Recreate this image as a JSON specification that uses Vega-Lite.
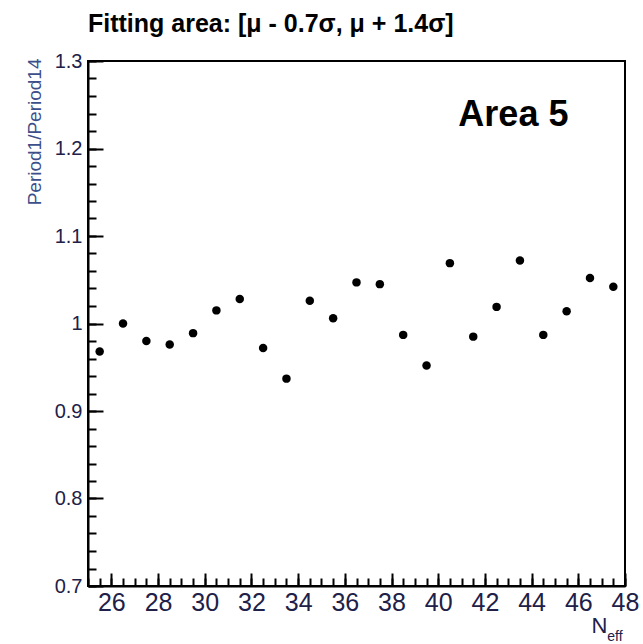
{
  "$schema": "https://vega.github.io/schema/vega-lite/v6.json",
  "autosize": {"type": "none"},
  "padding": {"left": 88, "top": 61, "right": 18, "bottom": 58},
  "width": 537,
  "height": 525,
  "background": "white",
  "config": {
    "view": {"stroke": "#000000", "strokeWidth": 2},
    "font": "Liberation Sans"
  },
  "title": {
    "text": "Fitting area: [μ - 0.7σ,  μ + 1.4σ]",
    "anchor": "start",
    "frame": "group",
    "font": "Liberation Sans",
    "fontSize": 25,
    "fontWeight": "bold",
    "color": "#000000",
    "baseline": "bottom",
    "offset": -11
  },
  "data": {
    "values": [
      {"neff": 25.5, "ratio": 0.968},
      {"neff": 26.5, "ratio": 1.000},
      {"neff": 27.5, "ratio": 0.980},
      {"neff": 28.5, "ratio": 0.976},
      {"neff": 29.5, "ratio": 0.989},
      {"neff": 30.5, "ratio": 1.015},
      {"neff": 31.5, "ratio": 1.028},
      {"neff": 32.5, "ratio": 0.972},
      {"neff": 33.5, "ratio": 0.937},
      {"neff": 34.5, "ratio": 1.026},
      {"neff": 35.5, "ratio": 1.006},
      {"neff": 36.5, "ratio": 1.047},
      {"neff": 37.5, "ratio": 1.045},
      {"neff": 38.5, "ratio": 0.987},
      {"neff": 39.5, "ratio": 0.952},
      {"neff": 40.5, "ratio": 1.069},
      {"neff": 41.5, "ratio": 0.985},
      {"neff": 42.5, "ratio": 1.019},
      {"neff": 43.5, "ratio": 1.072},
      {"neff": 44.5, "ratio": 0.987},
      {"neff": 45.5, "ratio": 1.014},
      {"neff": 46.5, "ratio": 1.052},
      {"neff": 47.5, "ratio": 1.042}
    ]
  },
  "resolve": {"axis": {"x": "independent", "y": "independent"}},
  "layer": [
    {
      "mark": {"type": "point", "shape": "circle", "filled": true, "color": "#000000", "opacity": 1, "size": 72},
      "encoding": {
        "x": {
          "field": "neff", "type": "quantitative",
          "scale": {"domain": [25, 48], "nice": false, "zero": false},
          "axis": {
            "orient": "bottom",
            "title": null,
            "values": [26, 28, 30, 32, 34, 36, 38, 40, 42, 44, 46, 48],
            "grid": false,
            "domain": true, "domainColor": "#000000", "domainWidth": 2,
            "ticks": true, "tickSize": -13, "tickColor": "#000000", "tickWidth": 2,
            "labelFontSize": 25, "labelColor": "#202048", "labelPadding": 17,
            "labelFont": "Liberation Sans", "labelBaseline": "top",
            "labelFlush": false, "labelOverlap": false
          }
        },
        "y": {
          "field": "ratio", "type": "quantitative",
          "scale": {"domain": [0.7, 1.3], "nice": false, "zero": false},
          "axis": {
            "orient": "left",
            "title": "Period1/Period14",
            "titleFontSize": 19, "titleFontWeight": "normal", "titleColor": "#3b4f8a",
            "titleFont": "Liberation Sans",
            "titleAngle": -90, "titleAlign": "right", "titleBaseline": "middle",
            "titleX": -54, "titleY": -3, "titleAnchor": "end",
            "values": [0.7, 0.8, 0.9, 1.0, 1.1, 1.2, 1.3],
            "format": "~g",
            "grid": false,
            "domain": true, "domainColor": "#000000", "domainWidth": 2,
            "ticks": true, "tickSize": -15, "tickColor": "#000000", "tickWidth": 2,
            "labelFontSize": 20, "labelColor": "#202048", "labelPadding": 21,
            "labelFont": "Liberation Sans",
            "labelFlush": false, "labelOverlap": false
          }
        }
      }
    },
    {
      "data": {"values": [{"label": "Area 5"}]},
      "mark": {"type": "text", "font": "Liberation Sans", "fontSize": 36, "fontWeight": "bold", "color": "#000000", "align": "center", "baseline": "alphabetic"},
      "encoding": {
        "text": {"field": "label"},
        "x": {
          "datum": 43.22, "type": "quantitative",
          "axis": {
            "orient": "bottom", "title": null, "labels": false, "grid": false,
            "domain": false,
            "values": [25, 25.5, 26, 26.5, 27, 27.5, 28, 28.5, 29, 29.5, 30, 30.5, 31, 31.5, 32, 32.5, 33, 33.5, 34, 34.5, 35, 35.5, 36, 36.5, 37, 37.5, 38, 38.5, 39, 39.5, 40, 40.5, 41, 41.5, 42, 42.5, 43, 43.5, 44, 44.5, 45, 45.5, 46, 46.5, 47, 47.5, 48],
            "ticks": true, "tickSize": -8, "tickColor": "#000000", "tickWidth": 2
          }
        },
        "y": {
          "datum": 1.2257, "type": "quantitative",
          "axis": {
            "orient": "left", "title": null, "labels": false, "grid": false,
            "domain": false,
            "values": [0.7, 0.72, 0.74, 0.76, 0.78, 0.8, 0.82, 0.84, 0.86, 0.88, 0.9, 0.92, 0.94, 0.96, 0.98, 1.0, 1.02, 1.04, 1.06, 1.08, 1.1, 1.12, 1.14, 1.16, 1.18, 1.2, 1.22, 1.24, 1.26, 1.28, 1.3],
            "ticks": true, "tickSize": -8, "tickColor": "#000000", "tickWidth": 2
          }
        }
      }
    },
    {
      "data": {"values": [{"label": "N"}]},
      "mark": {"type": "text", "font": "Liberation Sans", "fontSize": 22, "color": "#202048", "align": "center", "baseline": "alphabetic"},
      "encoding": {
        "text": {"field": "label"},
        "x": {"datum": 46.91, "type": "quantitative", "axis": null},
        "y": {"datum": 0.6463, "type": "quantitative", "axis": null}
      }
    },
    {
      "data": {"values": [{"label": "eff"}]},
      "mark": {"type": "text", "font": "Liberation Sans", "fontSize": 14, "color": "#202048", "align": "center", "baseline": "alphabetic"},
      "encoding": {
        "text": {"field": "label"},
        "x": {"datum": 47.57, "type": "quantitative", "axis": null},
        "y": {"datum": 0.6371, "type": "quantitative", "axis": null}
      }
    }
  ]
}
